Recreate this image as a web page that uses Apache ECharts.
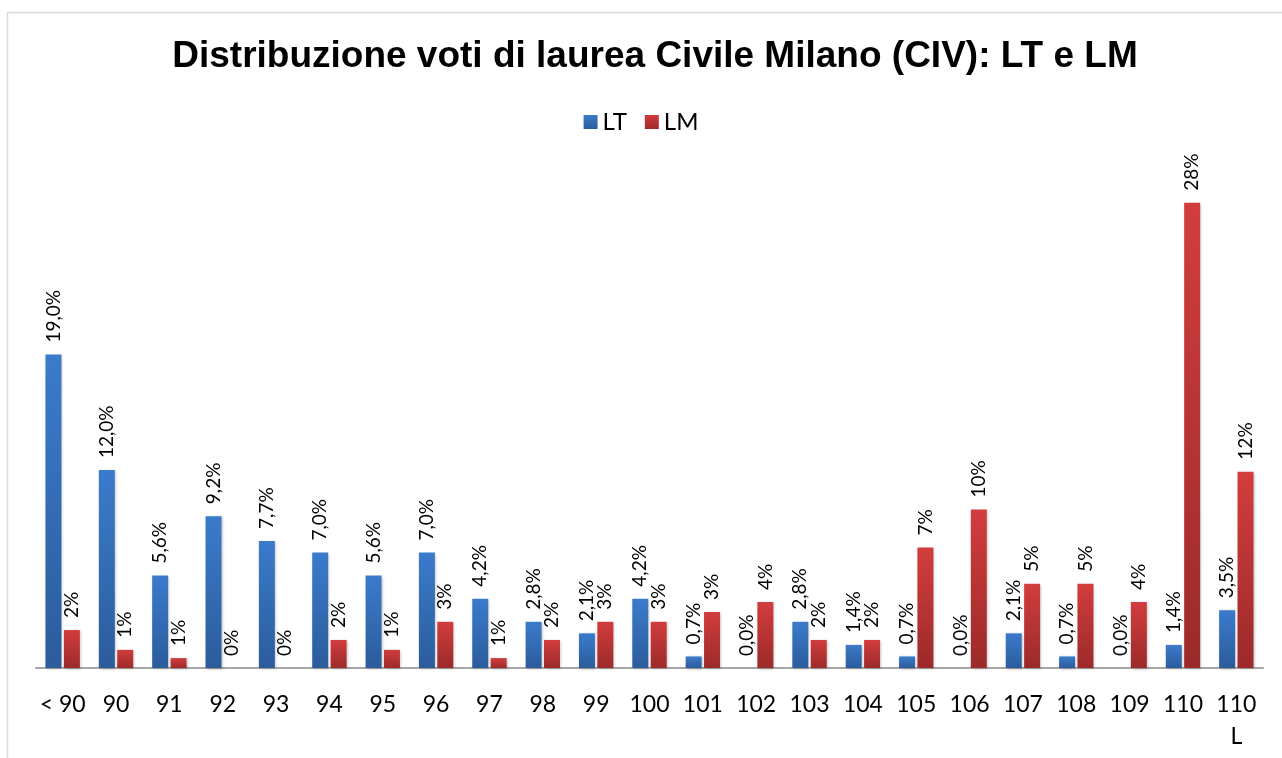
<!DOCTYPE html>
<html>
<head>
<meta charset="utf-8">
<script src="https://cdn.jsdelivr.net/npm/echarts@6/dist/echarts.min.js"></script>
<style>
html,body{margin:0;padding:0;background:#fff;}
#main{width:1282px;height:758px;}
</style>
</head>
<body>
<div id="main"></div>
<script>
var categories = ['< 90','90','91','92','93','94','95','96','97','98','99','100','101','102','103','104','105','106','107','108','109','110','110\nL'];
var ltValues = [19.0,12.0,5.6,9.2,7.7,7.0,5.6,7.0,4.2,2.8,2.1,4.2,0.7,0.0,2.8,1.4,0.7,0.0,2.1,0.7,0.0,1.4,3.5];
var lmValues = [2.3,1.1,0.6,0,0,1.7,1.1,2.8,0.6,1.7,2.8,2.8,3.4,4.0,1.7,1.7,7.3,9.6,5.1,5.1,4.0,28.2,11.9];

var font = 'Lato, "Open Sans", sans-serif';

var labelStyle = {
    show: true,
    position: 'top',
    rotate: 90,
    align: 'left',
    verticalAlign: 'middle',
    distance: 12,
    color: '#000',
    fontSize: 19,
    fontFamily: font
};

var option = {
    animation: false,
    color: ['#3574c4', '#c93636'],
    graphic: [{
        type: 'rect',
        shape: {x: 7.5, y: 12.5, width: 1300, height: 800},
        style: {fill: 'none', stroke: '#d9d9d9', lineWidth: 1.5},
        silent: true
    }],
    title: {
        text: 'Distribuzione voti di laurea Civile Milano (CIV): LT e LM',
        left: 650,
        textAlign: 'center',
        top: 33,
        textStyle: {
            fontFamily: 'Liberation Sans, Arial, sans-serif',
            fontWeight: 'bold',
            fontSize: 37,
            color: '#000'
        }
    },
    legend: {
        top: 105,
        left: 'center',
        itemWidth: 14,
        itemHeight: 14,
        itemGap: 18,
        icon: 'rect',
        textStyle: {fontSize: 24, fontFamily: font, color: '#000'},
        data: ['LT', 'LM']
    },
    grid: {
        left: 36,
        right: 19,
        top: 173,
        bottom: 90,
        containLabel: false
    },
    xAxis: {
        type: 'category',
        data: categories,
        axisLine: {lineStyle: {color: '#a6a6a6', width: 2}},
        axisTick: {show: false},
        axisLabel: {
            color: '#000',
            fontSize: 23,
            fontFamily: font,
            margin: 21,
            interval: 0,
            lineHeight: 32,
            verticalAlign: 'top'
        }
    },
    yAxis: {
        type: 'value',
        min: 0,
        max: 30,
        show: false,
        splitLine: {show: false}
    },
    series: [{
        name: 'LT',
        type: 'bar',
        data: ltValues,
        barWidth: 16,
        barGap: '15%',
        itemStyle: {
            color: new echarts.graphic.LinearGradient(0, 0, 0, 1, [
                {offset: 0, color: '#3b7bcc'},
                {offset: 1, color: '#2b5c9c'}
            ]),
            shadowColor: 'rgba(0,0,0,0.25)',
            shadowBlur: 3,
            shadowOffsetX: 1,
            shadowOffsetY: 1
        },
        label: Object.assign({}, labelStyle, {
            formatter: function (p) {
                return p.value.toFixed(1).replace('.', ',') + '%';
            }
        })
    }, {
        name: 'LM',
        type: 'bar',
        data: lmValues,
        barWidth: 16,
        itemStyle: {
            color: new echarts.graphic.LinearGradient(0, 0, 0, 1, [
                {offset: 0, color: '#d23d3d'},
                {offset: 1, color: '#9c2a2a'}
            ]),
            shadowColor: 'rgba(0,0,0,0.25)',
            shadowBlur: 3,
            shadowOffsetX: 1,
            shadowOffsetY: 1
        },
        label: Object.assign({}, labelStyle, {
            formatter: function (p) {
                return Math.round(p.value) + '%';
            }
        })
    }]
};

var chart = echarts.init(document.getElementById('main'));
chart.setOption(option);
</script>
</body>
</html>
